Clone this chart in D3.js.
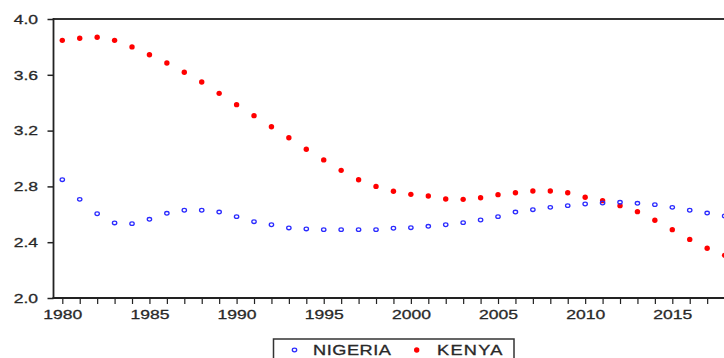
<!DOCTYPE html>
<html>
<head>
<meta charset="utf-8">
<script src="https://cdn.jsdelivr.net/npm/d3@7"></script>
<style>
  html, body { margin: 0; padding: 0; background: #fff; }
  svg { display: block; }
  text { font-family: "Liberation Sans", Arial, sans-serif; fill: #2a2a2a; }
</style>
</head>
<body>
<svg id="chart" width="724" height="358"></svg>
<script>
const years = d3.range(1980, 2019);
const nigeria = [2.848, 2.707, 2.604, 2.538, 2.533, 2.564, 2.607, 2.629, 2.629, 2.616,
  2.583, 2.547, 2.525, 2.502, 2.495, 2.490, 2.490, 2.490, 2.490, 2.500,
  2.504, 2.514, 2.525, 2.540, 2.559, 2.583, 2.616, 2.633, 2.650, 2.662,
  2.674, 2.681, 2.686, 2.679, 2.669, 2.650, 2.629, 2.609, 2.588];
const kenya = [3.847, 3.862, 3.869, 3.847, 3.800, 3.744, 3.685, 3.618, 3.548, 3.467,
  3.386, 3.307, 3.228, 3.149, 3.066, 2.990, 2.915, 2.848, 2.800, 2.765,
  2.743, 2.731, 2.710, 2.707, 2.719, 2.741, 2.755, 2.767, 2.767, 2.755,
  2.722, 2.698, 2.662, 2.619, 2.557, 2.490, 2.420, 2.357, 2.306];
const yTicks = [2.0, 2.4, 2.8, 3.2, 3.6, 4.0];
const xLabelYears = [1980, 1985, 1990, 1995, 2000, 2005, 2010, 2015];
const seriesNames = ["NIGERIA", "KENYA"];

const svg = d3.select("#chart");
const mLeft = 53.5, mTop = 19, mBottom = 298, mRight = 740;
const SX = 1.3;

const x = d3.scaleLinear().domain([1980, 2015]).range([62.3, 672.3]);
const y = d3.scaleLinear().domain([2, 4]).range([mBottom, mTop]);

function styleText(sel) {
  sel.attr("font-size", 13.5).attr("fill", "#262626")
    .attr("stroke", "#262626").attr("stroke-width", 0.3)
    .style("font-family", '"Liberation Sans", Arial, sans-serif');
}

// frame top line
svg.append("line").attr("x1", mLeft).attr("x2", mRight).attr("y1", mTop).attr("y2", mTop)
  .attr("stroke", "#333").attr("stroke-width", 2);

// Y axis
const yAxis = d3.axisLeft(y).tickValues(yTicks).tickFormat(d3.format(".1f")).tickSize(6).tickPadding(7);
const gy = svg.append("g").attr("transform", `translate(${mLeft},0)`).call(yAxis);
gy.select(".domain").remove();
gy.selectAll(".tick line").attr("stroke", "#222").attr("stroke-width", 1.5);
gy.selectAll(".tick text").call(styleText)
  .attr("x", -15.5 / SX).attr("transform", `scale(${SX},1)`);
svg.append("line").attr("x1", mLeft).attr("x2", mLeft).attr("y1", mTop - 1).attr("y2", mBottom + 1)
  .attr("stroke", "#222").attr("stroke-width", 1.8);

// X axis
const xAxis = d3.axisBottom(x).tickValues(years).tickSize(6).tickPadding(5.5)
  .tickFormat(d => xLabelYears.includes(d) ? String(d) : "");
const gx = svg.append("g").attr("transform", `translate(0,${mBottom})`).call(xAxis);
gx.select(".domain").remove();
gx.selectAll(".tick line").attr("stroke", "#222").attr("stroke-width", 1.2);
gx.selectAll(".tick text").call(styleText).attr("transform", `scale(${SX},1)`);
svg.append("line").attr("x1", mLeft - 1).attr("x2", mRight).attr("y1", mBottom).attr("y2", mBottom)
  .attr("stroke", "#222").attr("stroke-width", 2);

// series
svg.append("g").selectAll("circle").data(kenya).join("circle")
  .attr("cx", (d, i) => x(years[i])).attr("cy", d => y(d))
  .attr("r", 2.7).attr("fill", "#ff0000");

svg.append("g").selectAll("ellipse").data(nigeria).join("ellipse")
  .attr("cx", (d, i) => x(years[i])).attr("cy", d => y(d))
  .attr("rx", 2.2).attr("ry", 1.8).attr("fill", "none")
  .attr("stroke", "#2a2aff").attr("stroke-width", 1.3);

// legend
const lg = svg.append("g");
lg.append("rect").attr("x", 273.5).attr("y", 339).attr("width", 240.5).attr("height", 30)
  .attr("fill", "#fff").attr("stroke", "#333").attr("stroke-width", 1.5);
lg.append("ellipse").attr("cx", 294.5).attr("cy", 350).attr("rx", 2.2).attr("ry", 1.8)
  .attr("fill", "none").attr("stroke", "#2a2aff").attr("stroke-width", 1.3);
lg.append("text").attr("transform", `translate(313,355) scale(${SX},1)`).call(styleText)
  .attr("font-size", 14).style("letter-spacing", "0.4px").text(seriesNames[0]);
lg.append("circle").attr("cx", 416.7).attr("cy", 350).attr("r", 2.7).attr("fill", "#ff0000");
lg.append("text").attr("transform", `translate(437,355) scale(${SX},1)`).call(styleText)
  .attr("font-size", 14).style("letter-spacing", "1px").text(seriesNames[1]);
</script>
</body>
</html>
